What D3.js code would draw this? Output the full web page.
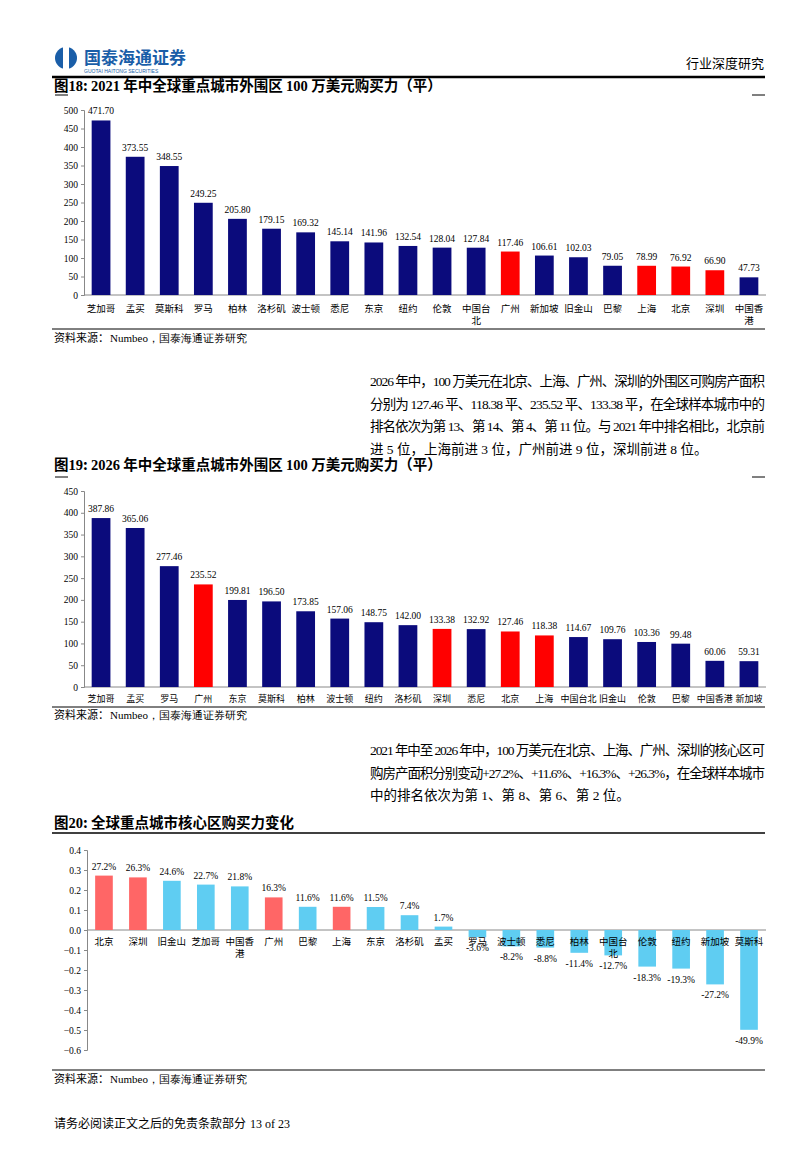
<!DOCTYPE html>
<html><head><meta charset="utf-8">
<script src="https://cdn.jsdelivr.net/npm/d3@7"></script>
<style>body{margin:0;background:#fff}svg{display:block}</style></head>
<body><svg id="s" width="810" height="1152"></svg>
<script>
const cats1=["芝加哥","孟买","莫斯科","罗马","柏林","洛杉矶","波士顿","悉尼","东京","纽约","伦敦","中国台北","广州","新加坡","旧金山","巴黎","上海","北京","深圳","中国香港"];
const vals1=[471.70,373.55,348.55,249.25,205.80,179.15,169.32,145.14,141.96,132.54,128.04,127.84,117.46,106.61,102.03,79.05,78.99,76.92,66.90,47.73];
const cats2=["芝加哥","孟买","罗马","广州","东京","莫斯科","柏林","波士顿","纽约","洛杉矶","深圳","悉尼","北京","上海","中国台北","旧金山","伦敦","巴黎","中国香港","新加坡"];
const vals2=[387.86,365.06,277.46,235.52,199.81,196.50,173.85,157.06,148.75,142.00,133.38,132.92,127.46,118.38,114.67,109.76,103.36,99.48,60.06,59.31];
const cats3=["北京","深圳","旧金山","芝加哥","中国香港","广州","巴黎","上海","东京","洛杉矶","孟买","罗马","波士顿","悉尼","柏林","中国台北","伦敦","纽约","新加坡","莫斯科"];
const vals3=[0.272,0.263,0.246,0.227,0.218,0.163,0.116,0.116,0.115,0.074,0.017,-0.036,-0.082,-0.088,-0.114,-0.127,-0.183,-0.193,-0.272,-0.499];
const ticks1=[0,50,100,150,200,250,300,350,400,450,500];
const ticks2=[0,50,100,150,200,250,300,350,400,450];
const ticks3=[-0.6,-0.5,-0.4,-0.3,-0.2,-0.1,0,0.1,0.2,0.3,0.4];
const china=["北京","上海","广州","深圳"];
const svg=d3.select("#s");
const SERIF="'Liberation Serif','DejaVu Serif',serif", CJK="'Noto Sans CJK SC',sans-serif";
const txt=(x,y,t,o={})=>svg.append("text").attr("x",x).attr("y",y).text(t)
 .attr("font-family",o.f||CJK).attr("font-size",o.s||12).attr("fill",o.c||"#000")
 .attr("text-anchor",o.a||"start").attr("font-weight",o.w||"normal");
const line=(x1,y1,x2,y2,w=1)=>svg.append("line").attr("x1",x1).attr("y1",y1).attr("x2",x2).attr("y2",y2).attr("stroke","#000").attr("stroke-width",w);
// header
svg.append("circle").attr("cx",66).attr("cy",58).attr("r",11).attr("fill","#1a5ea8");
svg.append("rect").attr("x",63).attr("y",47).attr("width",6).attr("height",22).attr("fill","#fff");
txt(84,64,"国泰海通证券",{s:17,c:"#1a5ea8",w:"bold"});
txt(84,73,"GUOTAI HAITONG SECURITIES",{s:5,c:"#1a5ea8",f:"Arial"});
txt(764,68,"行业深度研究",{s:13,a:"end"});
line(52,77,765,77,2.5);
function title(y,t){
  const g=txt(54,y,"",{s:14.5,w:"bold",f:SERIF});
  t.split(/(\d+)/).forEach(p=>{ if(p) g.append("tspan").text(p).attr("font-family",/\d/.test(p)?SERIF:CJK);});
}
function wrap(sel,name,x,y,size){
  const lines=name.length>3?[name.slice(0,3),name.slice(3)]:[name];
  lines.forEach((l,i)=>txt(x,y+i*12,l,{s:size,a:"middle"}));
}
function bars(o){
  const x=d3.scaleBand().domain(o.cats).range([o.x0,o.x1]).paddingInner(o.pad).paddingOuter(o.pad/2);
  const y=d3.scaleLinear().domain(o.dom).range([o.yb,o.yt]);
  const g=svg.append("g");
  g.append("g").attr("transform",`translate(${o.x0},0)`).call(d3.axisLeft(y).tickValues(o.ticks).tickSize(3).tickFormat(o.tf))
   .call(a=>{a.selectAll("text").attr("font-family",SERIF).attr("font-size",9.5);a.select(".domain").attr("stroke","#888");a.selectAll("line").attr("stroke","#888");});
  g.append("line").attr("x1",o.x0).attr("x2",o.x1).attr("y1",y(0)).attr("y2",y(0)).attr("stroke","#888");
  o.cats.forEach((c,i)=>{
    const v=o.vals[i], cx=x(c)+x.bandwidth()/2;
    g.append("rect").attr("x",x(c)).attr("width",x.bandwidth()).attr("y",y(Math.max(0,v))).attr("height",Math.abs(y(v)-y(0)))
     .attr("fill",china.includes(c)?o.hi:o.base);
    const ly=v>=0?y(v)-6:Math.max(y(v)+14,o.ly+6);
    txt(cx,ly,o.lf(v),{s:9.5,a:"middle",f:SERIF});
    if(o.wrap) wrap(g,c,cx,o.ly,9.5); else txt(cx,o.ly,c,{s:9,a:"middle"});
  });
}
// Chart 1
title(91,"图18:  2021 年中全球重点城市外围区 100 万美元购买力（平）");
line(55,95,68,95);line(752,95,765,95);
bars({cats:cats1,vals:vals1,x0:84,x1:766,pad:0.45,dom:[0,500],yb:295,yt:110,ticks:ticks1,tf:d3.format("d"),base:"#0b0b7c",hi:"#ff0000",lf:v=>v.toFixed(2),ly:312,wrap:true});
line(52,329,765,329);
txt(54,342,"资料来源：",{s:11});txt(110,342,"Numbeo，国泰海通证券研究",{s:11,f:SERIF});
const p1=["2026 年中，100 万美元在北京、上海、广州、深圳的外围区可购房产面积","分别为 127.46 平、118.38 平、235.52 平、133.38 平，在全球样本城市中的","排名依次为第 13、第 14、第 4、第 11 位。与 2021 年中排名相比，北京前","进 5 位，上海前进 3 位，广州前进 9 位，深圳前进 8 位。"];
p1.forEach((l,i)=>{const t=txt(370,386+i*22.5,l,{s:13.5,f:"'Liberation Serif','Noto Sans CJK SC',serif"}); if(i<3) t.attr("textLength",395).attr("lengthAdjust","spacing");});
// Chart 2
title(470,"图19:  2026 年中全球重点城市外围区 100 万美元购买力（平）");
line(55,477,68,477);line(752,477,765,477);
bars({cats:cats2,vals:vals2,x0:84,x1:766,pad:0.45,dom:[0,450],yb:687,yt:491,ticks:ticks2,tf:d3.format("d"),base:"#0b0b7c",hi:"#ff0000",lf:v=>v.toFixed(2),ly:702,wrap:false});
line(52,707,765,707);
txt(54,719,"资料来源：",{s:11});txt(110,719,"Numbeo，国泰海通证券研究",{s:11,f:SERIF});
const p2=["2021 年中至 2026 年中，100 万美元在北京、上海、广州、深圳的核心区可","购房产面积分别变动+27.2%、+11.6%、+16.3%、+26.3%，在全球样本城市","中的排名依次为第 1、第 8、第 6、第 2 位。"];
p2.forEach((l,i)=>{const t=txt(370,755+i*22.5,l,{s:13.5,f:"'Liberation Serif','Noto Sans CJK SC',serif"}); if(i<2) t.attr("textLength",395).attr("lengthAdjust","spacing");});
// Chart 3
title(828,"图20:  全球重点城市核心区购买力变化");
line(52,833,765,833,1.5);
bars({cats:cats3,vals:vals3,x0:87,x1:766,pad:0.48,dom:[-0.6,0.4],yb:1050,yt:850,ticks:ticks3,tf:d3.format(".1f"),base:"#5fcdf2",hi:"#ff6666",lf:v=>(v*100).toFixed(1)+"%",ly:945,wrap:true});
line(52,1070,765,1070);
txt(54,1083,"资料来源：",{s:11});txt(110,1083,"Numbeo，国泰海通证券研究",{s:11,f:SERIF});
txt(54,1128,"请务必阅读正文之后的免责条款部分",{s:12});txt(250,1128,"13 of 23",{s:12,f:SERIF});
</script></body></html>
